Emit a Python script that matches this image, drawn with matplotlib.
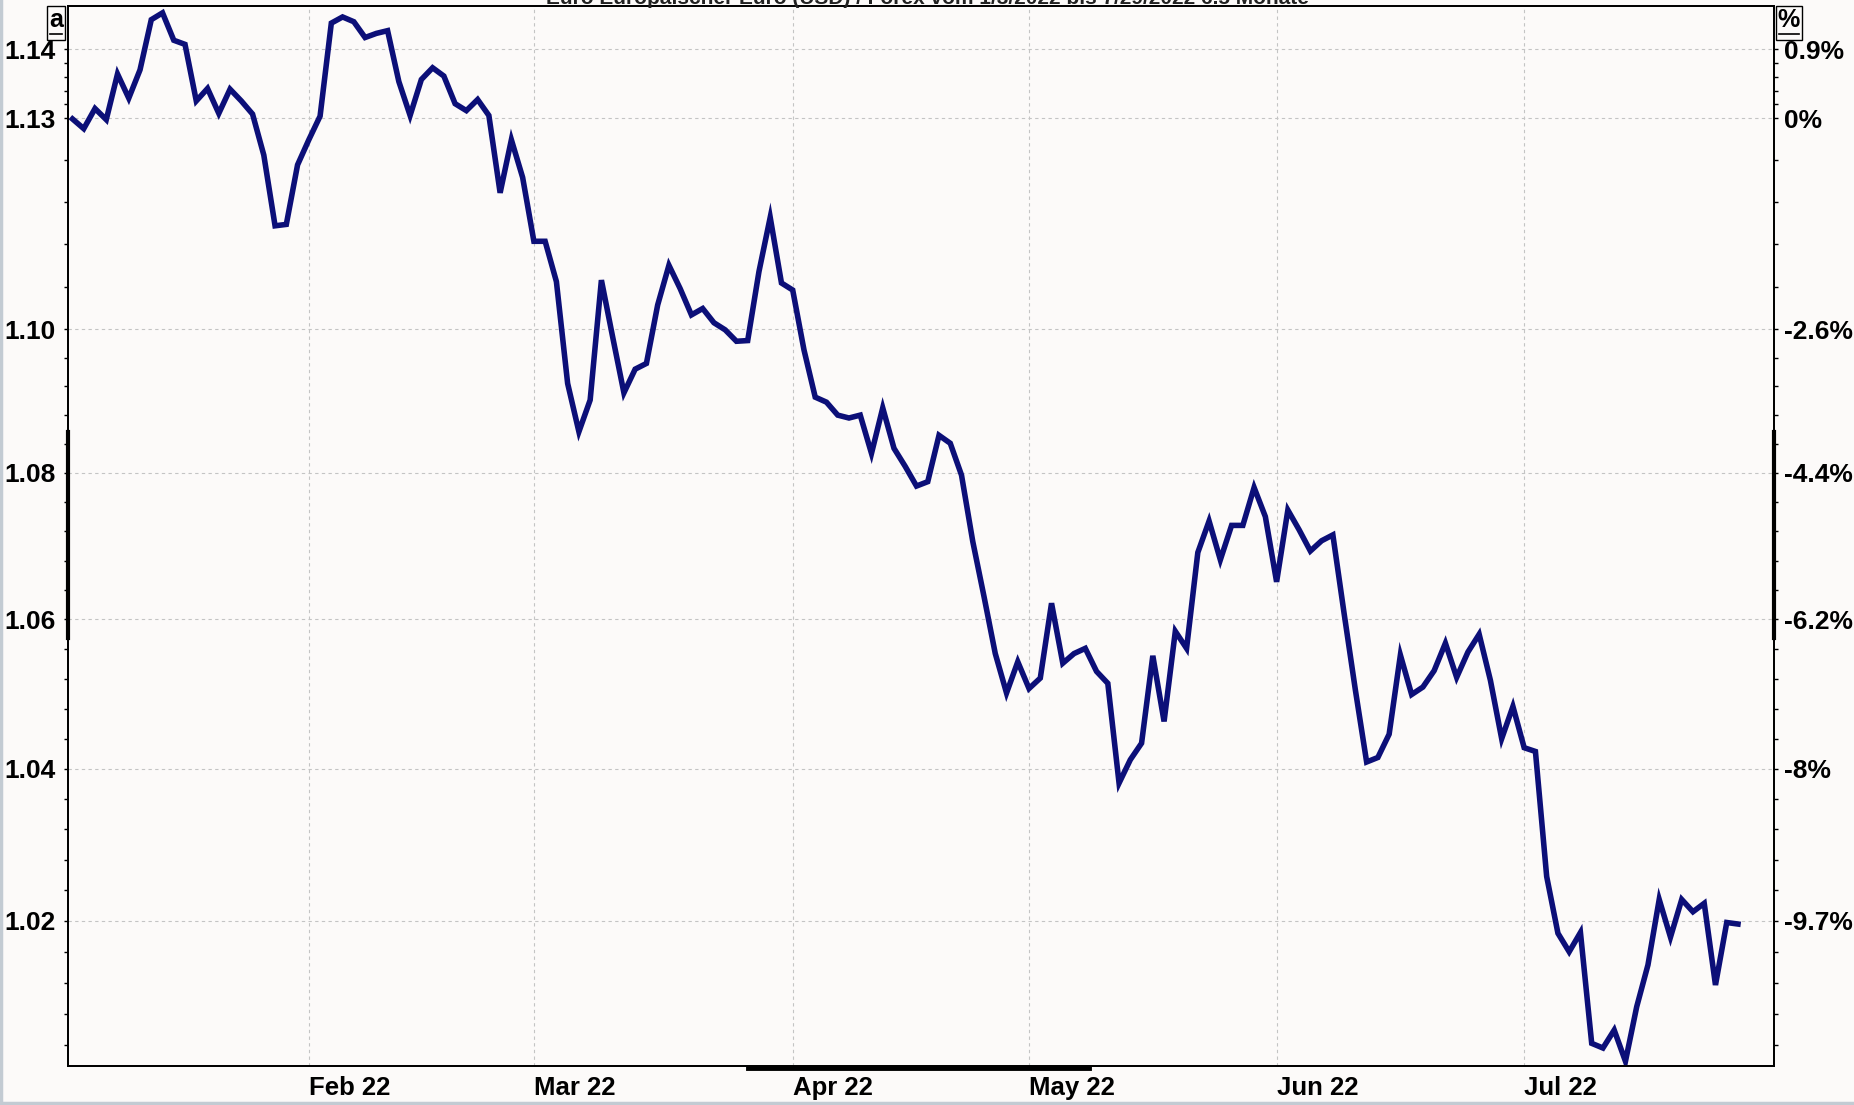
import numpy as np
import pandas as pd
import matplotlib
matplotlib.use('Agg')
import matplotlib.pyplot as plt
from matplotlib.lines import Line2D

# EUR/USD daily closes, 2022-01-03 .. 2022-07-28 (one value per weekday)
dates = pd.bdate_range('2022-01-03', '2022-07-28')
closes = [
    1.1299, 1.1285, 1.1314, 1.1298, 1.1364, 1.1329, 1.1370, 1.1443, 1.1453, 1.1413,
    1.1407, 1.1325, 1.1343, 1.1307, 1.1342, 1.1325, 1.1306, 1.1247, 1.1146, 1.1148,
    1.1233, 1.1269, 1.1303, 1.1438, 1.1447, 1.1440, 1.1417, 1.1423, 1.1427, 1.1353,
    1.1304, 1.1356, 1.1373, 1.1361, 1.1321, 1.1311, 1.1327, 1.1304, 1.1193, 1.1269,
    1.1215, 1.1124, 1.1124, 1.1067, 1.0924, 1.0857, 1.0901, 1.1069, 1.0989, 1.0911,
    1.0944, 1.0952, 1.1034, 1.1090, 1.1057, 1.1020, 1.1029, 1.1009, 1.0999, 1.0983,
    1.0984, 1.1081, 1.1158, 1.1065, 1.1055, 1.0971, 1.0905, 1.0898, 1.0880, 1.0876,
    1.0880, 1.0827, 1.0890, 1.0834, 1.0809, 1.0782, 1.0788, 1.0852, 1.0841, 1.0797,
    1.0706, 1.0631, 1.0554, 1.0501, 1.0543, 1.0507, 1.0521, 1.0622, 1.0541, 1.0554,
    1.0561, 1.0530, 1.0514, 1.0381, 1.0412, 1.0434, 1.0551, 1.0463, 1.0584, 1.0561,
    1.0691, 1.0734, 1.0681, 1.0728, 1.0728, 1.0780, 1.0740, 1.0651, 1.0749, 1.0722,
    1.0693, 1.0707, 1.0715, 1.0608, 1.0505, 1.0409, 1.0415, 1.0446, 1.0552, 1.0499,
    1.0509, 1.0531, 1.0568, 1.0522, 1.0556, 1.0580, 1.0518, 1.0440, 1.0483, 1.0428,
    1.0423, 1.0258, 1.0184, 1.0160, 1.0185, 1.0042, 1.0036, 1.0059, 1.0019, 1.0089,
    1.0143, 1.0228, 1.0179, 1.0228, 1.0212, 1.0223, 1.0117, 1.0198, 1.0196,
]

price_ticks = [1.02, 1.04, 1.06, 1.08, 1.10, 1.13, 1.14]
price_labels = ['1.02', '1.04', '1.06', '1.08', '1.10', '1.13', '1.14']
minor_ticks = ([1.004, 1.008, 1.012, 1.016, 1.024, 1.028, 1.032, 1.036,
                1.044, 1.048, 1.052, 1.056, 1.064, 1.068, 1.072, 1.076,
                1.084, 1.088, 1.092, 1.096, 1.106, 1.112, 1.118, 1.124,
                1.132, 1.134, 1.136, 1.138])
title = 'Euro Europäischer Euro (USD) / Forex vom 1/3/2022 bis 7/29/2022 6.5 Monate'

x = np.arange(len(closes))
base = closes[0]

# first weekday of each month (after January) -> tick positions
month_idx = []
month_lbl = []
for i in range(1, len(dates)):
    if dates[i].month != dates[i - 1].month:
        month_idx.append(i)
        month_lbl.append(dates[i].strftime('%b %y'))

bg = '#fcfaf9'
line_color = '#0c0f78'
W, H = 1854, 1105

fig = plt.figure(figsize=(W / 100, H / 100), dpi=100, facecolor=bg)
ax = fig.add_axes([68 / W, 39 / H, 1706 / W, 1060 / H], facecolor=bg)

ax.plot(x, closes, color=line_color, lw=4.0, solid_joinstyle='miter', zorder=3)

ax.set_yscale('log')
ax.set_ylim(1.0013, 1.1463)
ax.set_xlim(-0.4, 151.2)

ax.set_yticks(price_ticks)
ax.set_yticklabels(price_labels)
ax.set_yticks(minor_ticks, minor=True)
ax.yaxis.set_minor_formatter(plt.NullFormatter())
ax.set_xticks(month_idx)
ax.set_xticklabels(month_lbl)

for lbl in ax.get_yticklabels():
    lbl.set_fontfamily('Liberation Sans')
    lbl.set_fontweight('bold')
    lbl.set_fontsize(19)
for lbl in ax.get_xticklabels():
    lbl.set_fontfamily('Liberation Sans')
    lbl.set_fontweight('bold')
    lbl.set_fontsize(18.5)
    lbl.set_horizontalalignment('left')

ax.tick_params(axis='y', which='major', length=3, width=1, pad=6, colors='black')
ax.tick_params(axis='y', which='minor', length=3, width=1)
ax.tick_params(axis='x', length=0, pad=7)

ax.grid(True, which='major', color='#c4c4c4', lw=0.8, ls=(0, (3, 3)))

for s in ax.spines.values():
    s.set_linewidth(1.3)
    s.set_color('black')

# right axis: % change from first close
ax2 = ax.twinx()
ax2.set_yscale('log')
ax2.set_ylim(ax.get_ylim())
ax2.set_yticks(price_ticks)
pct_labels = []
for v in price_ticks:
    p = (v / base - 1) * 100
    s = f'{p:.1f}'
    if s.endswith('.0'):
        s = s[:-2]
    if s == '-0':
        s = '0'
    pct_labels.append(s + '%')
ax2.set_yticklabels(pct_labels)
ax2.set_yticks(minor_ticks, minor=True)
ax2.yaxis.set_minor_formatter(plt.NullFormatter())
for lbl in ax2.get_yticklabels():
    lbl.set_fontfamily('Liberation Sans')
    lbl.set_fontweight('bold')
    lbl.set_fontsize(19)
ax2.tick_params(axis='y', which='major', length=3, width=1, pad=4)
ax2.tick_params(axis='y', which='minor', length=3, width=1)
for s in ax2.spines.values():
    s.set_linewidth(1.3)

# scroll position markers on the frame
ax.plot([0.3986, 0.5985], [-0.002, -0.002], transform=ax.transAxes, color='black',
        lw=3.5, clip_on=False, zorder=5)
ax.plot([0.0, 0.0], [0.404, 0.598], transform=ax.transAxes, color='black',
        lw=3, clip_on=False, zorder=5)
ax.plot([1.0, 1.0], [0.404, 0.598], transform=ax.transAxes, color='black',
        lw=3, clip_on=False, zorder=5)

# corner boxes with underlined symbols
for cx, sym, hw in [(56, 'a', 9), (1789, '%', 13)]:
    fig.text(cx / W, 1 - 20 / H, sym, fontsize=18, fontweight='bold', family='Liberation Sans',
             ha='center', va='center')
    fig.add_artist(Line2D([(cx - hw + 3) / W, (cx + hw - 3) / W], [1 - 34 / H, 1 - 34 / H],
                          transform=fig.transFigure, color='black', lw=1.2))
    fig.add_artist(plt.Rectangle(((cx - hw) / W, 1 - 40 / H), 2 * hw / W, 34 / H,
                                 transform=fig.transFigure, fill=False, ec='black', lw=1))

# title cut off at top edge, as in the source screenshot
fig.text(0.5, 1 - 4 / H, title, ha='center', va='baseline', fontsize=15,
         fontweight='bold', color='#222222', family='Liberation Sans')

# window border
fig.add_artist(Line2D([1 / W, 1 / W], [0, 1], transform=fig.transFigure, color='#c3cbd3', lw=2.5))
fig.add_artist(Line2D([0, 1], [2 / H, 2 / H], transform=fig.transFigure, color='#c3cbd3', lw=2.5))

fig.savefig('out.png', dpi=100, facecolor=bg)
